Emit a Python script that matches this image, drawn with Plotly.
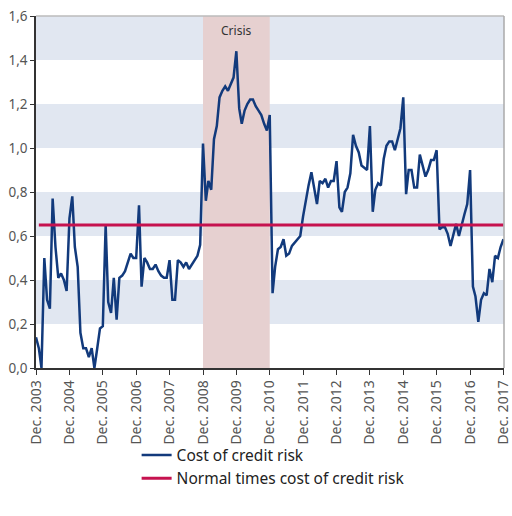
import pandas as pd
import plotly.graph_objects as go

# Monthly cost of credit risk, Dec 2003 - Dec 2017
cost_of_credit_risk = [
    0.14, 0.09, 0.00, 0.50, 0.31, 0.27, 0.77, 0.55, 0.41, 0.43, 0.40, 0.35,
    0.68, 0.78, 0.55, 0.46, 0.16, 0.09, 0.09, 0.05, 0.09, 0.00, 0.09, 0.18,
    0.19, 0.65, 0.30, 0.25, 0.41, 0.22, 0.41, 0.42, 0.44, 0.48, 0.52, 0.50,
    0.50, 0.74, 0.37, 0.50, 0.48, 0.45, 0.45, 0.47, 0.44, 0.42, 0.41, 0.41,
    0.49, 0.31, 0.31, 0.49, 0.48, 0.46, 0.48, 0.45, 0.47, 0.49, 0.51, 0.56,
    1.02, 0.76, 0.85, 0.81, 1.04, 1.10, 1.23, 1.26, 1.28, 1.26, 1.29, 1.32,
    1.44, 1.18, 1.11, 1.17, 1.20, 1.22, 1.22, 1.19, 1.17, 1.15, 1.11, 1.08,
    1.15, 0.34, 0.46, 0.54, 0.55, 0.585, 0.51, 0.52, 0.555, 0.57, 0.59, 0.60,
    0.69, 0.77, 0.83, 0.89, 0.82, 0.745, 0.85, 0.84, 0.86, 0.82, 0.85, 0.85,
    0.94, 0.73, 0.71, 0.80, 0.82, 0.885, 1.06, 1.01, 0.98, 0.92, 0.91, 0.90,
    1.10, 0.71, 0.81, 0.84, 0.83, 0.95, 1.01, 1.03, 1.03, 0.99, 1.04, 1.09,
    1.23, 0.79, 0.90, 0.90, 0.82, 0.82, 0.97, 0.92, 0.87, 0.90, 0.945, 0.945,
    0.99, 0.63, 0.64, 0.64, 0.61, 0.555, 0.60, 0.655, 0.60, 0.655, 0.70, 0.745,
    0.90, 0.37, 0.325, 0.21, 0.31, 0.34, 0.33, 0.45, 0.39, 0.51, 0.50, 0.55,
    0.585,
]
normal_times_value = 0.65
dates = pd.date_range("2003-12-31", periods=len(cost_of_credit_risk), freq="ME")

tick_years = list(range(2003, 2018))
tick_dates = [pd.Timestamp(f"{y}-12-31") for y in tick_years]
tick_labels = [f"Dec. {y}" for y in tick_years]

y_ticks = [0.0, 0.2, 0.4, 0.6, 0.8, 1.0, 1.2, 1.4, 1.6]
y_labels = [f"{v:.1f}".replace(".", ",") for v in y_ticks]
band_ranges = [(0.2, 0.4), (0.6, 0.8), (1.0, 1.2), (1.4, 1.6)]
crisis_start, crisis_end = "2008-12-31", "2010-12-31"

FONT = "Noto Sans"
BLUE = "#123a7c"
RED = "#c6124f"
BAND = "#e1e7f1"
CRISIS = "#e6d0d0"
AXIS = "#333333"

fig = go.Figure()
fig.add_trace(go.Scatter(x=dates, y=cost_of_credit_risk, mode="lines",
                         name="Cost of credit risk",
                         line=dict(color=BLUE, width=2.5)))
fig.add_trace(go.Scatter(x=dates[1:], y=[normal_times_value] * (len(dates) - 1),
                         mode="lines", name="Normal times cost of credit risk",
                         line=dict(color=RED, width=3)))

shapes = []
for lo, hi in band_ranges:
    shapes.append(dict(type="rect", xref="paper", yref="y", x0=0, x1=1, y0=lo, y1=hi,
                       fillcolor=BAND, line=dict(width=0), layer="below"))
shapes.append(dict(type="rect", xref="x", yref="paper", x0=crisis_start, x1=crisis_end,
                   y0=0, y1=1, fillcolor=CRISIS, line=dict(width=0), layer="below"))
# top and right frame
shapes.append(dict(type="line", xref="paper", yref="paper", x0=0, x1=1, y0=1, y1=1,
                   line=dict(color="#bbbbbb", width=1.5)))
shapes.append(dict(type="line", xref="paper", yref="paper", x0=1, x1=1, y0=0, y1=1,
                   line=dict(color="#aaaaaa", width=1.5)))

fig.update_layout(
    width=512, height=516,
    margin=dict(l=36, r=8, t=16, b=148),
    paper_bgcolor="white", plot_bgcolor="white",
    font=dict(family=FONT, color="#444444"),
    shapes=shapes,
    annotations=[dict(x=pd.Timestamp("2009-12-31"), y=1, xref="x", yref="paper",
                      yshift=-4, text="Crisis", showarrow=False, yanchor="top",
                      font=dict(size=12, color="#333333", family=FONT))],
    showlegend=True,
    legend=dict(orientation="v", x=0.215, y=-0.2, xanchor="left", yanchor="top",
                font=dict(size=15.5, color="#222222", family=FONT),
                bgcolor="rgba(0,0,0,0)", tracegroupgap=2, itemwidth=30),
    xaxis=dict(
        range=[pd.Timestamp("2003-12-31"), pd.Timestamp("2018-01-06")],
        tickvals=tick_dates, ticktext=tick_labels, tickangle=-90,
        ticks="outside", ticklen=5, tickcolor=AXIS, tickwidth=1,
        showline=True, linecolor=AXIS, linewidth=1.5,
        showgrid=False, zeroline=False, ticklabeloverflow="allow",
        automargin=False,
        tickfont=dict(size=14, color="#555555", family=FONT),
    ),
    yaxis=dict(
        range=[0, 1.6], tickvals=y_ticks, ticktext=y_labels,
        ticks="outside", ticklen=4, tickcolor=AXIS,
        showline=True, linecolor=AXIS, linewidth=1.5,
        showgrid=False, zeroline=False, automargin=False,
        tickfont=dict(size=13.5, color="#555555", family=FONT),
    ),
)

fig.write_html("out.html", config={"displayModeBar": False},
               post_script="document.body.style.margin='0';")
